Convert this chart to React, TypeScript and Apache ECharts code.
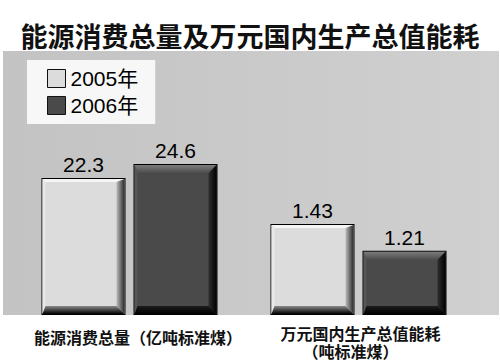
import React, { useEffect, useRef } from "react";
import * as echarts from "echarts";

const titleText = "能源消费总量及万元国内生产总值能耗";
const seriesNames = ["2005年", "2006年"];
const categoryLeft = ["能源消费总量（亿吨标准煤）"];
const categoryRight = ["万元国内生产总值能耗\n（吨标准煤）"];
const energyTotal = [22.3, 24.6]; // 2005, 2006
const energyPerGdp = [1.43, 1.21]; // 2005, 2006

const BAR_W = 84;
const BAR_GAP = 8;

type Pal = {
  face: string;
  top: any;
  left: string;
  right: any;
  bottom: any;
  topW: number;
};

const lin = (horizontal: boolean, a: string, b: string) => ({
  type: "linear",
  x: 0,
  y: 0,
  x2: horizontal ? 1 : 0,
  y2: horizontal ? 0 : 1,
  colorStops: [
    { offset: 0, color: a },
    { offset: 1, color: b },
  ],
});

const lightPal: Pal = {
  face: "#dcdcdc",
  top: "#f5f5f5",
  left: "#e8e8e8",
  right: lin(true, "#bcbcbc", "#2a2a2a"),
  bottom: lin(false, "#8a8a8a", "#000000"),
  topW: 3,
};
const darkPal: Pal = {
  face: "#4a4a4a",
  top: lin(false, "#7c7c7c", "#4c4c4c"),
  left: "#565656",
  right: lin(true, "#2e2e2e", "#000000"),
  bottom: lin(false, "#1c1c1c", "#000000"),
  topW: 8,
};

const makeRender = (idx: number, pal: Pal) => (params: any, api: any) => {
  const cat = api.value(0);
  const val = api.value(1);
  const pt = api.coord([cat, val]);
  const cs = params.coordSys;
  const bottom = cs.y + cs.height;
  const offset = idx === 0 ? -(BAR_W + BAR_GAP) / 2 : (BAR_W + BAR_GAP) / 2;
  const x0 = pt[0] + offset - BAR_W / 2;
  const x1 = x0 + BAR_W;
  const y0 = pt[1];
  const y1 = bottom;
  const ix0 = x0 + 1;
  const ix1 = x1 - 1;
  const iy0 = y0 + 1;
  const iy1 = y1 - 1;
  const bt = pal.topW;
  const bl = 3;
  const br = 8;
  const bb = 8;
  return {
    type: "group",
    children: [
      { type: "rect", shape: { x: x0, y: y0, width: BAR_W, height: y1 - y0 }, style: { fill: "#000" } },
      { type: "rect", shape: { x: ix0, y: iy0, width: ix1 - ix0, height: iy1 - iy0 }, style: { fill: pal.face } },
      {
        type: "polygon",
        shape: { points: [[ix0, iy0], [ix1, iy0], [ix1 - br, iy0 + bt], [ix0 + bl, iy0 + bt]] },
        style: { fill: pal.top },
      },
      {
        type: "polygon",
        shape: { points: [[ix0, iy0], [ix0 + bl, iy0 + bt], [ix0 + bl, iy1 - bb], [ix0, iy1]] },
        style: { fill: pal.left },
      },
      {
        type: "polygon",
        shape: { points: [[ix1, iy0], [ix1, iy1], [ix1 - br, iy1 - bb], [ix1 - br, iy0 + bt]] },
        style: { fill: pal.right },
      },
      {
        type: "polygon",
        shape: { points: [[ix0, iy1], [ix1, iy1], [ix1 - br, iy1 - bb], [ix0 + bl, iy1 - bb]] },
        style: { fill: pal.bottom },
      },
      {
        type: "text",
        x: (x0 + x1) / 2,
        y: y0 - 3,
        style: {
          text: String(val),
          fill: "#000",
          fontSize: 21,
          fontFamily: "'Liberation Sans', Arial, sans-serif",
          align: "center",
          verticalAlign: "bottom",
        },
      },
    ],
  };
};

export default function App() {
  const ref = useRef<HTMLDivElement>(null);
  useEffect(() => {
    if (!ref.current) return;
    const chart = echarts.init(ref.current, undefined, { renderer: "svg" });
    const cjk = "'Noto Sans CJK SC', sans-serif";
    const pals = [lightPal, darkPal];
    const colors = ["#dcdcdc", "#4a4a4a"];
    const series: any[] = [];
    seriesNames.forEach((name, i) => {
      series.push({
        type: "custom",
        name,
        coordinateSystem: "cartesian2d",
        xAxisIndex: 0,
        yAxisIndex: 0,
        itemStyle: { color: colors[i] },
        renderItem: makeRender(i, pals[i]),
        data: [[0, energyTotal[i]]],
        z: 5,
      });
      series.push({
        type: "custom",
        name,
        coordinateSystem: "cartesian2d",
        xAxisIndex: 1,
        yAxisIndex: 1,
        itemStyle: { color: colors[i] },
        renderItem: makeRender(i, pals[i]),
        data: [[0, energyPerGdp[i]]],
        z: 5,
      });
    });
    chart.setOption({
      animation: false,
      backgroundColor: "#ffffff",
      title: {
        text: titleText,
        left: "center",
        top: 20,
        padding: 0,
        textStyle: { fontFamily: cjk, fontWeight: "bold", fontSize: 27, color: "#111", lineHeight: 30 },
      },
      graphic: [
        {
          type: "rect",
          z: -10,
          shape: { x: 3, y: 51, width: 496, height: 264 },
          style: { fill: lin(true, "#c3c3c3", "#d0d0d0") as any },
        },
      ],
      legend: {
        orient: "vertical",
        left: 27,
        top: 60,
        padding: [8, 17, 8, 20],
        backgroundColor: "#f7f7f7",
        itemWidth: 18,
        itemHeight: 18,
        itemGap: 6,
        itemTextGap: 3,
        icon: "rect",
        itemStyle: { borderColor: "#111", borderWidth: 1 },
        textStyle: { fontSize: 21, lineHeight: 18, color: "#000", fontFamily: "'Liberation Sans', " + cjk },
        data: seriesNames,
      },
      grid: [
        { left: 30, width: 199, top: 51, height: 264 },
        { left: 259, width: 199, top: 51, height: 264 },
      ],
      xAxis: [
        {
          type: "category",
          gridIndex: 0,
          data: categoryLeft,
          axisLine: { show: false },
          axisTick: { show: false },
          axisLabel: {
            margin: 14,
            fontFamily: cjk,
            fontWeight: "bold",
            fontSize: 16,
            color: "#111",
            padding: [0, 0, 0, 17],
          },
        },
        {
          type: "category",
          gridIndex: 1,
          data: categoryRight,
          axisLine: { show: false },
          axisTick: { show: false },
          axisLabel: {
            margin: 9,
            fontFamily: cjk,
            fontWeight: "bold",
            fontSize: 16,
            color: "#111",
            formatter: (v: string) => {
              const parts = v.split("\n");
              return "{a|" + parts[0] + "}\n{b|" + parts[1] + "}";
            },
            rich: {
              a: { fontFamily: cjk, fontWeight: "bold", fontSize: 16, color: "#111", lineHeight: 18, padding: [0, 0, 0, 4] },
              b: { fontFamily: cjk, fontWeight: "bold", fontSize: 16, color: "#111", lineHeight: 18, padding: [0, 16, 0, 0] },
            },
          },
        },
      ],
      yAxis: [
        { type: "value", gridIndex: 0, min: 0, max: 43, show: false, splitLine: { show: false } },
        { type: "value", gridIndex: 1, min: 0.68, max: 2.855, show: false, splitLine: { show: false } },
      ],
      series,
    });
    return () => chart.dispose();
  }, []);
  return <div ref={ref} style={{ width: 500, height: 363, position: "absolute", left: 0, top: 0 }} />;
}
